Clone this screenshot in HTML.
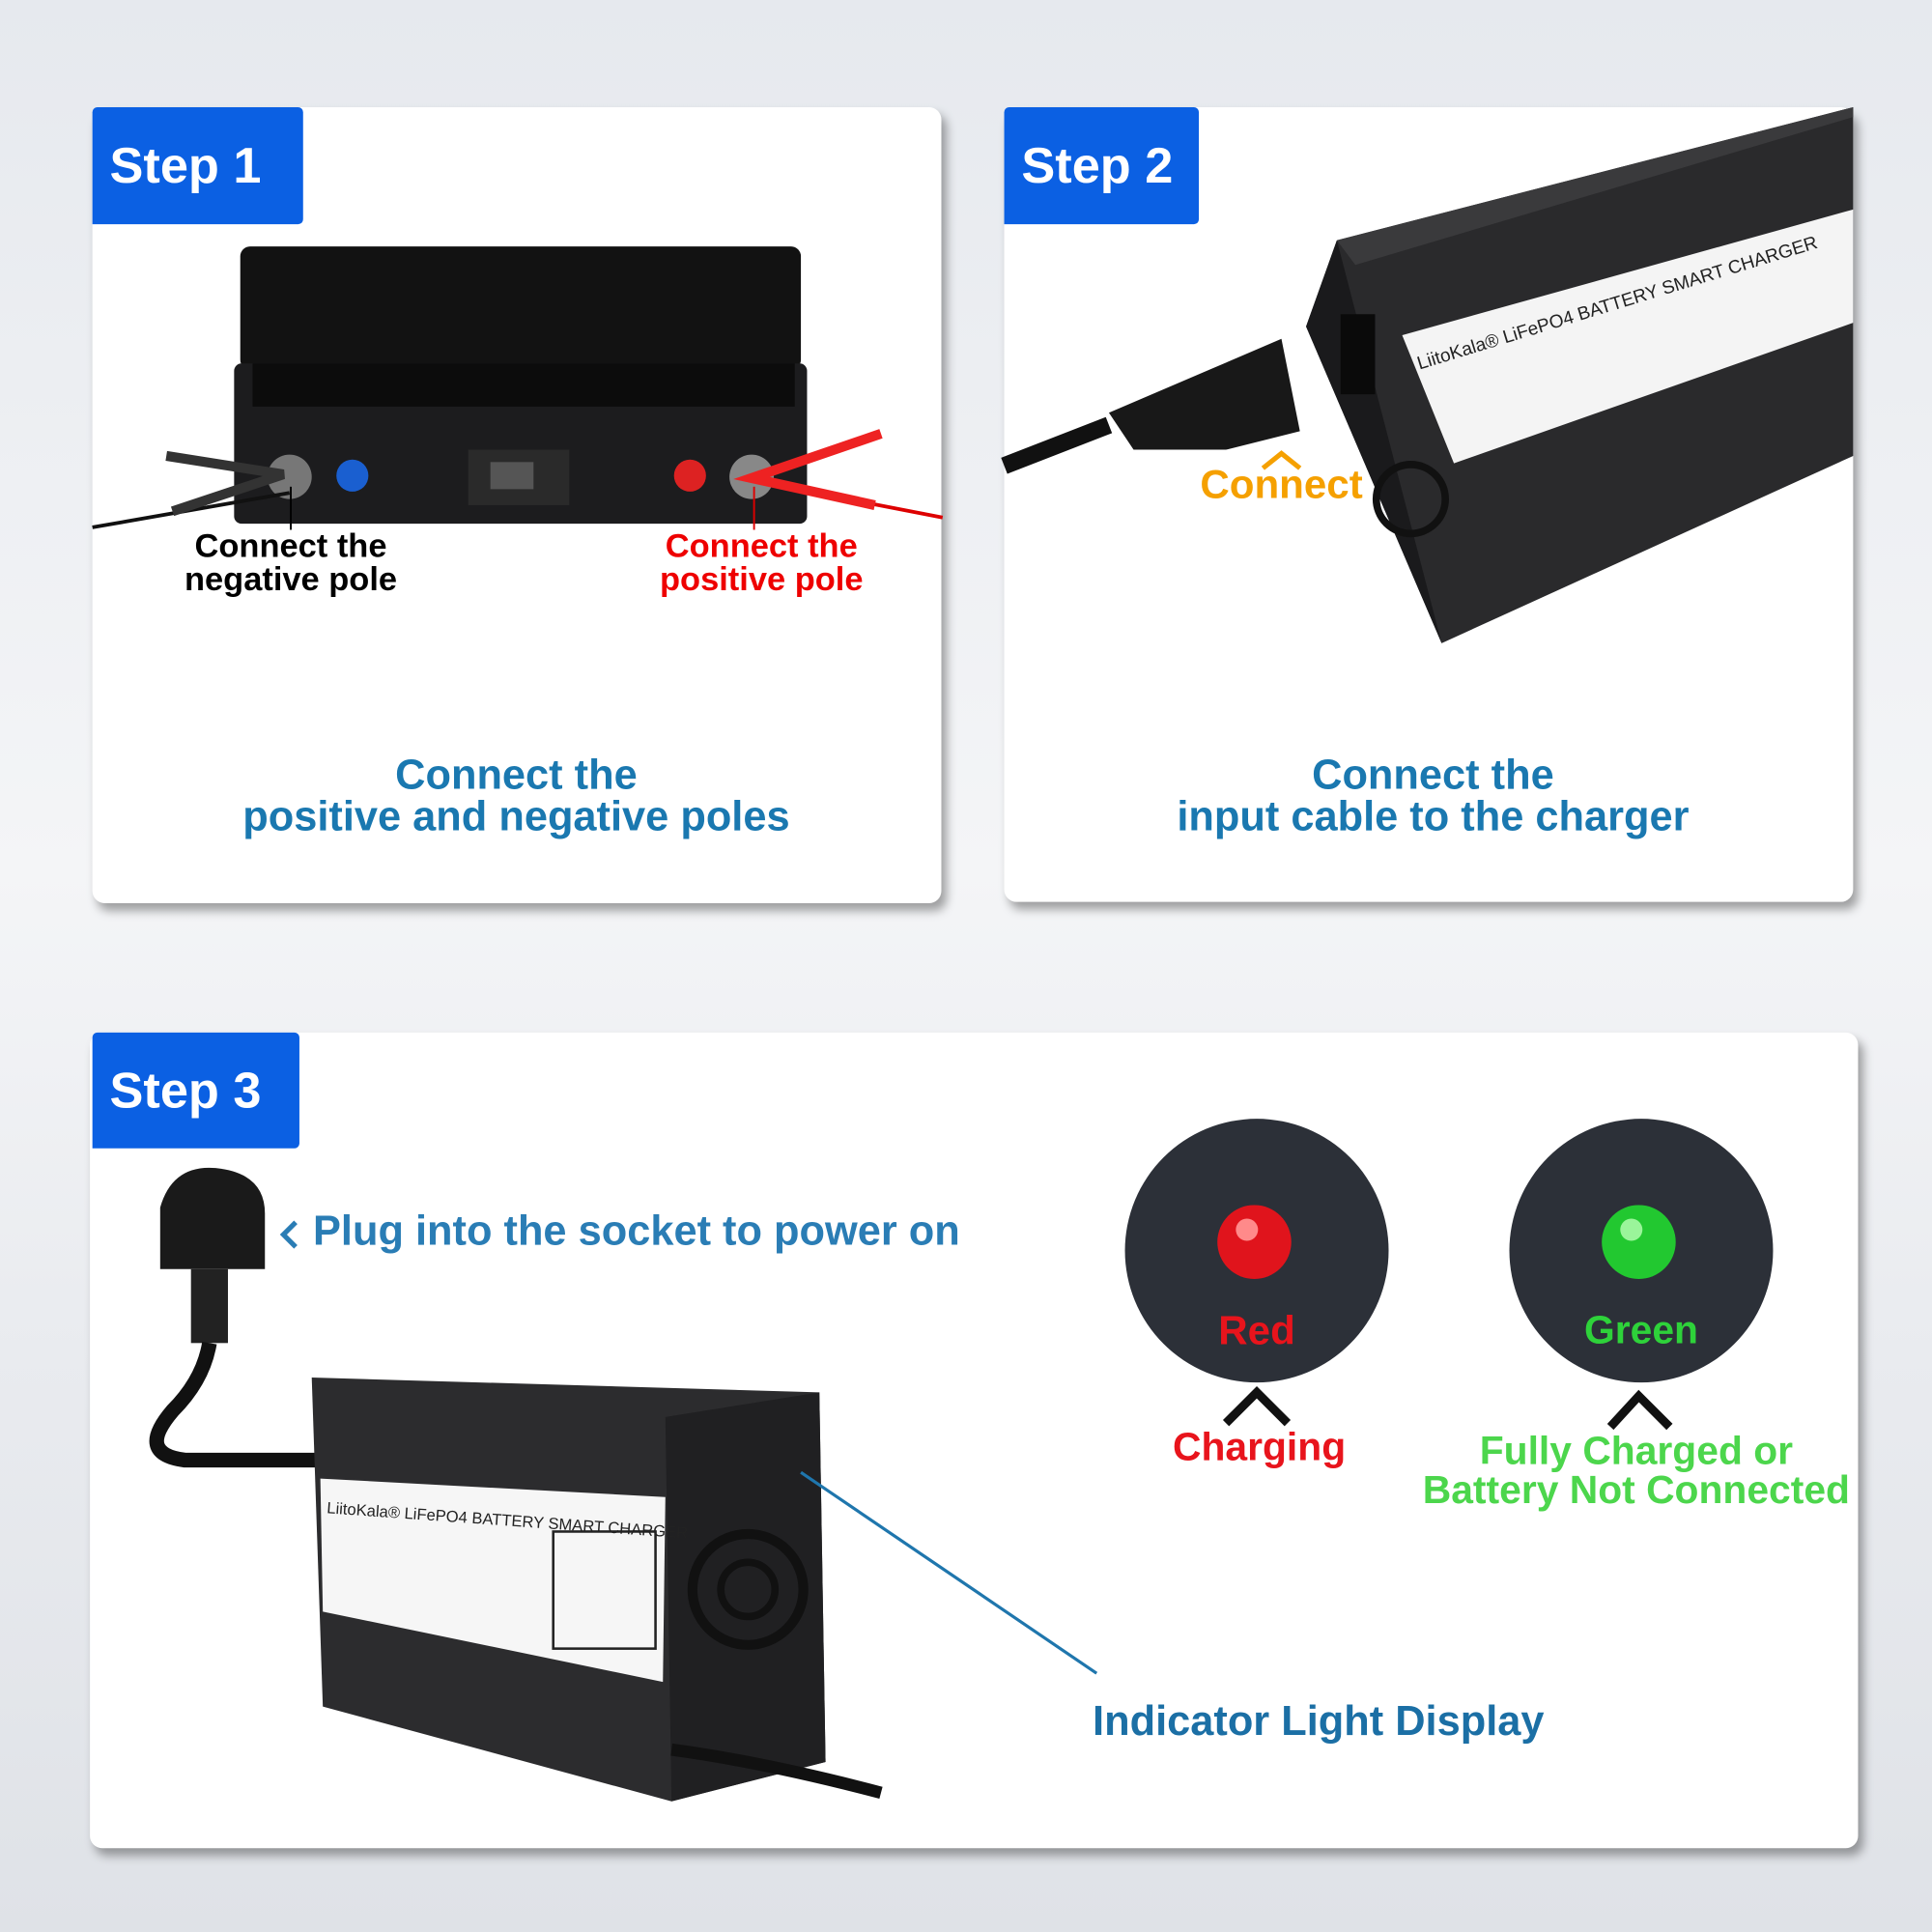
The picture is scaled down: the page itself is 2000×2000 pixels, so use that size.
<!DOCTYPE html>
<html><head><meta charset="utf-8">
<style>
html,body{margin:0;padding:0;}
body{width:2000px;height:2000px;overflow:hidden;background:linear-gradient(180deg,#e6e9ee 0%,#f4f5f7 45%,#e9ebef 70%,#dfe2e7 100%);font-family:"Liberation Sans",sans-serif;}
#s{position:absolute;left:0;top:0;width:1568px;height:1568px;transform:scale(1.27551);transform-origin:0 0;}
.p{position:absolute;background:#fff;border-radius:10px;box-shadow:4px 6px 8px rgba(0,0,0,.35);}
.b{position:absolute;background:#0b60e3;color:#fff;font-weight:bold;font-size:41px;border-radius:4px 4px 4px 0;display:flex;align-items:center;padding-left:14px;box-sizing:border-box;}
.t{position:absolute;font-weight:bold;text-align:center;white-space:nowrap;line-height:1;}
svg{position:absolute;left:0;top:0;}
</style></head><body><div id="s">
<div class="p" style="left:75px;top:87px;width:689px;height:646px"></div>
<div class="p" style="left:815px;top:87px;width:689px;height:645px"></div>
<div class="p" style="left:73px;top:838px;width:1435px;height:662px"></div>

<svg width="1568" height="1568">
<!-- battery -->
<rect x="195" y="200" width="455" height="100" rx="8" fill="#121212"/>
<rect x="190" y="295" width="465" height="130" rx="6" fill="#1c1c1e"/>
<rect x="205" y="295" width="440" height="35" fill="#0c0c0c"/>
<rect x="380" y="365" width="82" height="45" fill="#2a2a2a"/><rect x="398" y="375" width="35" height="22" fill="#555"/>
<circle cx="235" cy="387" r="18" fill="#777"/><circle cx="286" cy="386" r="13" fill="#1a5fd0"/>
<circle cx="560" cy="386" r="13" fill="#d22"/><circle cx="610" cy="387" r="18" fill="#888"/>
<path d="M75 428 L235 400" stroke="#111" stroke-width="3"/><path d="M135 370 L230 385 L140 415" stroke="#333" stroke-width="8" fill="none"/>
<path d="M765 420 L620 392" stroke="#d00" stroke-width="3"/><path d="M715 352 L610 388 L710 410" stroke="#e22" stroke-width="8" fill="none"/>
<line x1="236" y1="395" x2="236" y2="430" stroke="#000" stroke-width="1.5"/>
<line x1="612" y1="395" x2="612" y2="430" stroke="#d00" stroke-width="1.5"/>
<!-- step2 charger -->
<polygon points="1085,195 1504,87 1504,370 1170,522 1060,265" fill="#2a2a2c"/>
<polygon points="1085,195 1504,87 1504,95 1100,215" fill="#3a3a3c"/>
<polygon points="1060,265 1085,195 1170,522" fill="#1a1a1c"/>
<polygon points="1138,272 1504,170 1504,262 1180,376" fill="#f4f4f4"/>
<text x="1152" y="300" font-size="15" font-family="Liberation Sans" fill="#222" transform="rotate(-17 1152 300)">LiitoKala® LiFePO4 BATTERY SMART CHARGER</text>
<rect x="1088" y="255" width="28" height="65" fill="#0a0a0a"/>
<circle cx="1145" cy="405" r="28" fill="none" stroke="#111" stroke-width="6"/>
<path d="M815 378 L900 345" stroke="#111" stroke-width="14"/>
<polygon points="900,335 1040,275 1055,350 995,365 920,365" fill="#181818"/>
<path d="M1025 380 L1040 368 L1055 380" stroke="#f5a000" stroke-width="4" fill="none"/>
<!-- plug -->
<path d="M130 980 Q140 945 175 948 Q215 952 215 985 L215 1030 L130 1030 Z" fill="#1a1a1a"/>
<rect x="155" y="1030" width="30" height="60" fill="#222"/>
<path d="M170 1090 Q165 1120 140 1145 Q110 1180 150 1185 L260 1185" stroke="#111" stroke-width="12" fill="none"/>
<path d="M240 992 L230 1002 L240 1012" stroke="#2a7db5" stroke-width="4" fill="none"/>
<!-- step3 charger -->
<polygon points="253,1118 665,1130 670,1430 545,1462 262,1385" fill="#2c2c2e"/>
<polygon points="540,1150 665,1130 670,1430 545,1462" fill="#202022"/>
<polygon points="260,1200 540,1215 538,1365 262,1308" fill="#f6f6f6"/>
<text x="265" y="1228" font-size="13" font-family="Liberation Sans" fill="#222" transform="rotate(4 265 1228)">LiitoKala® LiFePO4 BATTERY SMART CHARGER</text>
<rect x="449" y="1243" width="83" height="95" fill="none" stroke="#222" stroke-width="2"/>
<circle cx="607" cy="1290" r="45" fill="none" stroke="#111" stroke-width="8"/><circle cx="607" cy="1290" r="22" fill="none" stroke="#111" stroke-width="6"/>
<path d="M545 1420 Q620 1430 715 1455" stroke="#111" stroke-width="10" fill="none"/>
<line x1="650" y1="1195" x2="890" y2="1358" stroke="#1f76ad" stroke-width="2.5"/>
<!-- indicator circles -->
<circle cx="1020" cy="1015" r="107" fill="#2c3038"/>
<circle cx="1332" cy="1015" r="107" fill="#2c3038"/>
<circle cx="1018" cy="1008" r="30" fill="#e0141c"/><circle cx="1012" cy="998" r="9" fill="#ff8a8a"/>
<circle cx="1330" cy="1008" r="30" fill="#22c830"/><circle cx="1324" cy="998" r="9" fill="#9af59a"/>
<path d="M995 1155 L1020 1130 L1045 1155" stroke="#111" stroke-width="7" fill="none"/>
<path d="M1307 1158 L1330 1133 L1355 1158" stroke="#111" stroke-width="7" fill="none"/>
</svg>

<div class="b" style="left:75px;top:87px;width:171px;height:95px">Step 1</div>
<div class="b" style="left:815px;top:87px;width:158px;height:95px">Step 2</div>
<div class="b" style="left:75px;top:838px;width:168px;height:94px">Step 3</div>

<div class="t" style="left:136px;top:430px;width:200px;font-size:27px;color:#000">Connect the<br>negative pole</div>
<div class="t" style="left:518px;top:430px;width:200px;font-size:27px;color:#e00">Connect the<br>positive pole</div>
<div class="t" style="left:119px;top:612px;width:600px;font-size:34px;color:#1a78b0">Connect the<br>positive and negative poles</div>
<div class="t" style="left:863px;top:612px;width:600px;font-size:34px;color:#1a78b0">Connect the<br>input cable to the charger</div>
<div class="t" style="left:960px;top:376px;width:160px;font-size:33px;color:#f5a000">Connect</div>
<div class="t" style="left:254px;top:982px;font-size:34px;color:#2a7db5">Plug into the socket to power on</div>
<div class="t" style="left:960px;top:1063px;width:120px;font-size:33px;color:#e8141c">Red</div>
<div class="t" style="left:1262px;top:1063px;width:140px;font-size:32px;color:#2ed23a">Green</div>
<div class="t" style="left:922px;top:1158px;width:200px;font-size:32px;color:#e8141c">Charging</div>
<div class="t" style="left:1128px;top:1161px;width:400px;font-size:32px;color:#4cd64c">Fully Charged or<br>Battery Not Connected</div>
<div class="t" style="left:870px;top:1380px;width:400px;font-size:34px;color:#1b6fa5">Indicator Light Display</div>
</div></body></html>
